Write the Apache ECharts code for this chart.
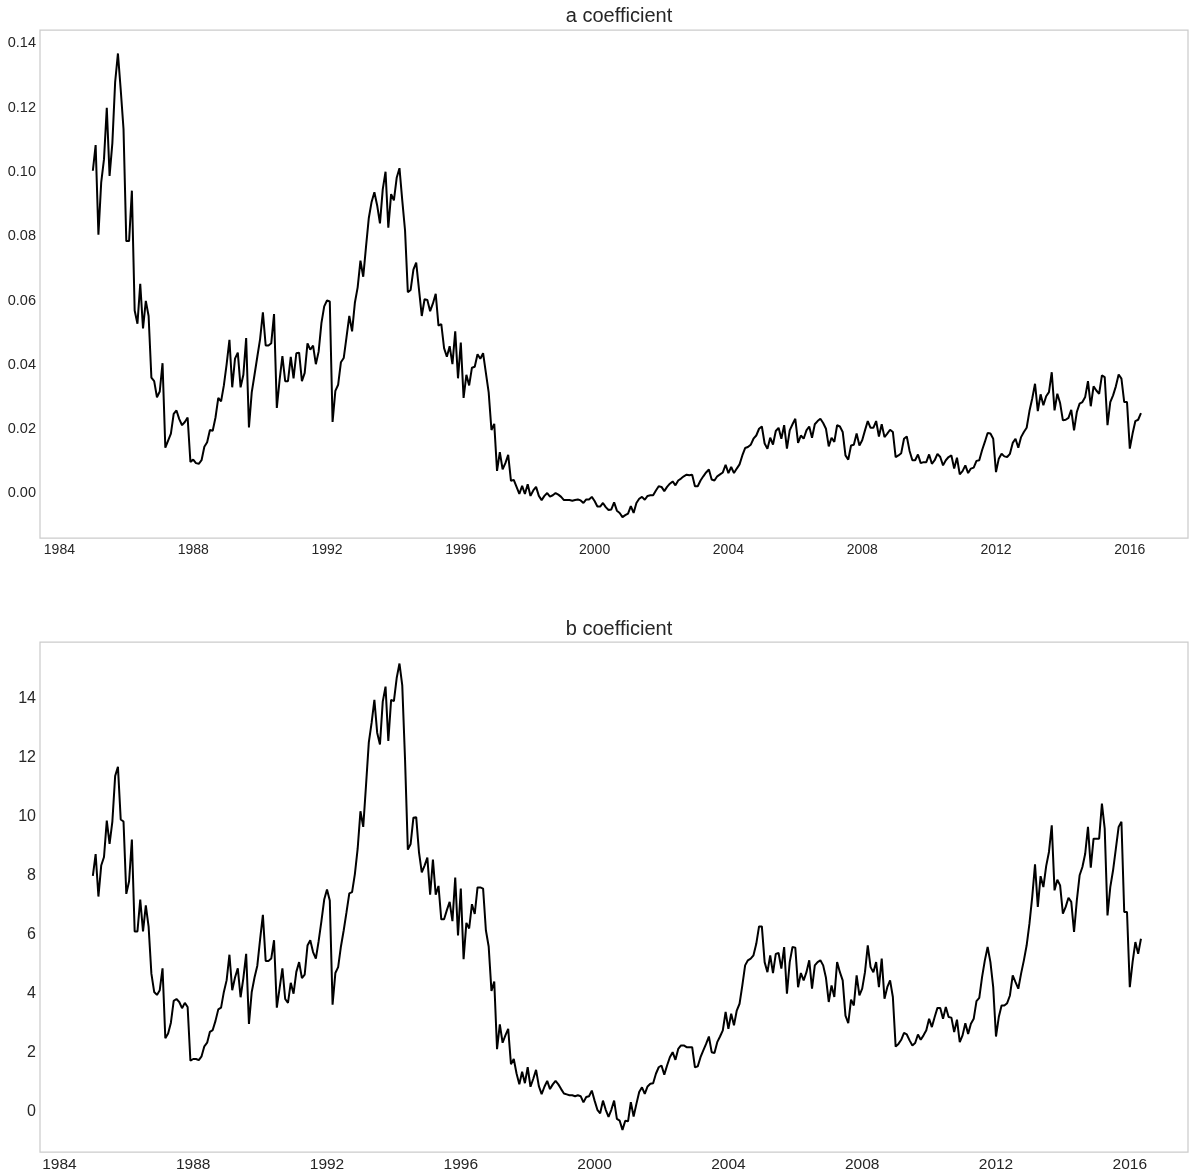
<!DOCTYPE html>
<html>
<head>
<meta charset="utf-8">
<script src="https://cdn.jsdelivr.net/npm/echarts@6/dist/echarts.min.js"></script>
<style>
  html, body { margin: 0; padding: 0; background: #ffffff; }
  #chart { width: 1189px; height: 1175px; }
</style>
</head>
<body>
<div id="chart"></div>
<script>
// Monthly estimates, first observation January 1985.
const START_YEAR = 1985;

const yearTicks = [1984, 1988, 1992, 1996, 2000, 2004, 2008, 2012, 2016];
const aTicks = [0, 0.02, 0.04, 0.06, 0.08, 0.10, 0.12, 0.14];
const bTicks = [0, 2, 4, 6, 8, 10, 12, 14];

// a coefficient, 1985-01 .. 1992-02
const aCoef1985 = [
  0.1004, 0.1084, 0.0805, 0.0968, 0.1040, 0.1200, 0.0988, 0.1090, 0.1280, 0.1369,
  0.1256, 0.1134, 0.0785, 0.0785, 0.0942, 0.0569, 0.0528, 0.0652, 0.0513, 0.0599,
  0.0552, 0.0360, 0.0349, 0.0299, 0.0317, 0.0405, 0.0142, 0.0164, 0.0186, 0.0247,
  0.0258, 0.0231, 0.0212, 0.0222, 0.0236, 0.0098, 0.0105, 0.0094, 0.0092, 0.0103,
  0.0145, 0.0159, 0.0197, 0.0195, 0.0236, 0.0297, 0.0286, 0.0336, 0.0402, 0.0478,
  0.0330, 0.0419, 0.0438, 0.0330, 0.0369, 0.0483, 0.0205, 0.0314, 0.0369, 0.0425,
  0.0480, 0.0563, 0.0460, 0.0460, 0.0467, 0.0558, 0.0266, 0.0353, 0.0427, 0.0349,
  0.0349, 0.0425, 0.0358, 0.0436, 0.0438, 0.0349, 0.0375, 0.0467, 0.0447, 0.0460,
  0.0402, 0.0441, 0.0530, 0.0582, 0.0600, 0.0597
];
// a coefficient, continuing through 2000
const aCoef1992 = [
  0.0222, 0.0319, 0.0338, 0.0408, 0.0421, 0.0486, 0.0552, 0.0504, 0.0593, 0.0641,
  0.0724, 0.0674, 0.0768, 0.0857, 0.0907, 0.0937, 0.0896, 0.0840, 0.0946, 0.1001,
  0.0827, 0.0931, 0.0912, 0.0982, 0.1012, 0.0912, 0.0818, 0.0626, 0.0633, 0.0696,
  0.0718, 0.0635, 0.0552, 0.0604, 0.0602, 0.0567, 0.0591, 0.0621, 0.0522, 0.0527,
  0.0452, 0.0425, 0.0458, 0.0402, 0.0504, 0.0358, 0.0469, 0.0297, 0.0369, 0.0336,
  0.0391, 0.0394, 0.0433, 0.0419, 0.0436, 0.0375, 0.0314, 0.0197, 0.0216, 0.0070,
  0.0128, 0.0075, 0.0094, 0.0120, 0.0039, 0.0042, 0.0020, -0.0002, 0.0023, -0.0002,
  0.0028, -0.0008, 0.0009, 0.0020, -0.0008, -0.0021, -0.0008, 0.0001, -0.0010, -0.0006,
  0.0001, -0.0004, -0.0011, -0.0021, -0.0021, -0.0021, -0.0023, -0.0021, -0.0019, -0.0022,
  -0.0030, -0.0019, -0.0019, -0.0011, -0.0024, -0.0041, -0.0041, -0.0030, -0.0043, -0.0052,
  -0.0050, -0.0028, -0.0054, -0.0061
];
// a coefficient, 2000 .. 2008
const aCoef2000 = [
  -0.0074, -0.0068, -0.0063, -0.0040, -0.0061, -0.0030, -0.0017, -0.0011, -0.0020, -0.0008,
  -0.0006, -0.0006, 0.0009, 0.0022, 0.0020, 0.0007, 0.0020, 0.0030, 0.0037, 0.0025,
  0.0040, 0.0046, 0.0053, 0.0058, 0.0056, 0.0058, 0.0022, 0.0022, 0.0040, 0.0053,
  0.0065, 0.0074, 0.0043, 0.0040, 0.0053, 0.0059, 0.0065, 0.0089, 0.0063, 0.0082,
  0.0063, 0.0077, 0.0090, 0.0118, 0.0141, 0.0144, 0.0151, 0.0170, 0.0180, 0.0201,
  0.0208, 0.0155, 0.0139, 0.0173, 0.0152, 0.0194, 0.0204, 0.0170, 0.0212, 0.0139,
  0.0196, 0.0215, 0.0232, 0.0157, 0.0180, 0.0170, 0.0196, 0.0208, 0.0173, 0.0215,
  0.0225, 0.0232, 0.0219, 0.0201, 0.0146, 0.0173, 0.0160, 0.0212, 0.0208, 0.0191,
  0.0118, 0.0105, 0.0149, 0.0151, 0.0186, 0.0149, 0.0165, 0.0196, 0.0225, 0.0204,
  0.0204, 0.0225, 0.0177, 0.0215
];
// a coefficient, 2008 .. 2016
const aCoef2008 = [
  0.0175, 0.0186, 0.0198, 0.0191, 0.0113, 0.0118, 0.0125, 0.0170, 0.0177, 0.0132,
  0.0103, 0.0103, 0.0121, 0.0094, 0.0097, 0.0097, 0.0121, 0.0092, 0.0103, 0.0123,
  0.0113, 0.0087, 0.0103, 0.0113, 0.0118, 0.0077, 0.0111, 0.0059, 0.0069, 0.0087,
  0.0063, 0.0077, 0.0080, 0.0101, 0.0103, 0.0134, 0.0160, 0.0188, 0.0186, 0.0170,
  0.0066, 0.0108, 0.0123, 0.0115, 0.0113, 0.0123, 0.0157, 0.0170, 0.0142, 0.0175,
  0.0191, 0.0204, 0.0256, 0.0295, 0.0341, 0.0256, 0.0308, 0.0274, 0.0302, 0.0315,
  0.0377, 0.0258, 0.0310, 0.0281, 0.0227, 0.0229, 0.0235, 0.0260, 0.0196, 0.0253,
  0.0279, 0.0284, 0.0300, 0.0349, 0.0271, 0.0333, 0.0320, 0.0310, 0.0367, 0.0362,
  0.0212, 0.0284, 0.0305, 0.0333, 0.0370, 0.0357, 0.0284, 0.0284, 0.0139, 0.0186,
  0.0225, 0.0229, 0.0250
];

// b coefficient, same months
const bCoef1985 = [
  7.98, 8.72, 7.28, 8.33, 8.62, 9.85, 9.06, 9.82, 11.36, 11.67,
  9.89, 9.82, 7.37, 7.80, 9.21, 6.10, 6.10, 7.18, 6.10, 6.98,
  6.26, 4.67, 4.05, 3.95, 4.11, 4.85, 2.48, 2.64, 3.01, 3.75,
  3.81, 3.71, 3.50, 3.68, 3.54, 1.72, 1.78, 1.78, 1.74, 1.87,
  2.21, 2.33, 2.70, 2.76, 3.07, 3.46, 3.52, 4.05, 4.45, 5.31,
  4.11, 4.54, 4.85, 3.87, 4.52, 5.34, 2.97, 4.05, 4.54, 4.94,
  5.83, 6.66, 5.10, 5.10, 5.18, 5.80, 3.52, 4.18, 4.85, 3.81,
  3.68, 4.36, 3.99, 4.73, 5.06, 4.52, 4.64, 5.62, 5.80, 5.40,
  5.18, 5.77, 6.45, 7.18, 7.52, 7.15
];
const bCoef1992 = [
  3.62, 4.69, 4.89, 5.59, 6.14, 6.75, 7.39, 7.43, 8.04, 8.90,
  10.17, 9.64, 11.05, 12.50, 13.16, 13.94, 12.83, 12.43, 13.88, 14.39,
  12.55, 13.94, 13.90, 14.68, 15.17, 14.43, 11.91, 8.87, 9.06, 9.95,
  9.97, 8.78, 8.10, 8.33, 8.60, 7.34, 8.53, 7.34, 7.64, 6.51,
  6.51, 6.82, 7.10, 6.45, 7.92, 5.96, 7.55, 5.16, 6.39, 6.20,
  7.02, 6.69, 7.59, 7.59, 7.55, 6.14, 5.59, 4.08, 4.40, 2.11,
  2.95, 2.33, 2.58, 2.80, 1.60, 1.78, 1.29, 0.92, 1.35, 0.96,
  1.50, 0.84, 1.11, 1.41, 0.86, 0.59, 0.84, 1.04, 0.76, 0.92,
  1.04, 0.92, 0.76, 0.61, 0.58, 0.55, 0.55, 0.52, 0.55, 0.52,
  0.31, 0.49, 0.52, 0.71, 0.37, 0.06, -0.06, 0.37, 0.06, -0.18,
  0.06, 0.37, -0.25, -0.31
];
const bCoef2000 = [
  -0.62, -0.31, -0.33, 0.32, -0.17, 0.26, 0.66, 0.82, 0.60, 0.85,
  0.94, 0.96, 1.28, 1.50, 1.56, 1.25, 1.56, 1.84, 2.01, 1.75,
  2.12, 2.24, 2.24, 2.18, 2.18, 2.18, 1.50, 1.53, 1.84, 2.07,
  2.29, 2.54, 2.01, 1.98, 2.35, 2.54, 2.75, 3.37, 2.80, 3.31,
  2.92, 3.42, 3.65, 4.27, 4.95, 5.12, 5.18, 5.29, 5.68, 6.27,
  6.27, 5.06, 4.72, 5.29, 4.69, 5.34, 5.37, 4.84, 5.57, 3.99,
  5.06, 5.57, 5.55, 4.21, 4.69, 4.44, 4.72, 5.12, 4.16, 4.95,
  5.06, 5.12, 4.95, 4.53, 3.71, 4.27, 3.88, 5.06, 4.72, 4.44,
  3.25, 2.99, 3.79, 3.59, 4.61, 3.93, 4.16, 4.72, 5.63, 4.89,
  4.72, 5.06, 4.21, 5.18
];
const bCoef2008 = [
  3.82, 4.21, 4.44, 3.88, 2.20, 2.29, 2.43, 2.66, 2.61, 2.41,
  2.24, 2.32, 2.61, 2.43, 2.58, 2.75, 3.14, 2.86, 3.20, 3.51,
  3.51, 3.14, 3.54, 3.20, 3.18, 2.69, 3.11, 2.35, 2.58, 2.99,
  2.63, 2.97, 3.14, 3.74, 3.85, 4.55, 5.12, 5.57, 5.06, 4.21,
  2.54, 3.20, 3.59, 3.59, 3.67, 3.93, 4.61, 4.38, 4.16, 4.67,
  5.12, 5.63, 6.36, 7.27, 8.37, 6.93, 7.97, 7.60, 8.31, 8.79,
  9.69, 7.49, 7.85, 7.66, 6.70, 6.93, 7.24, 7.10, 6.08, 7.15,
  8.00, 8.28, 8.73, 9.64, 8.26, 9.24, 9.24, 9.24, 10.43, 9.58,
  6.64, 7.60, 8.17, 8.90, 9.64, 9.81, 6.76, 6.76, 4.21, 5.06,
  5.74, 5.34, 5.85
];

const aCoef = [].concat(aCoef1985, aCoef1992, aCoef2000, aCoef2008);
const bCoef = [].concat(bCoef1985, bCoef1992, bCoef2000, bCoef2008);

// monthly series -> [decimal year, value]
const monthly = vals => vals.map((v, i) => [START_YEAR + i / 12, v]);

const TEXT = '#262626';
const FONT = '"Liberation Sans", Arial, sans-serif';

function xAxisFor(gridIndex, fontSize) {
  return {
    type: 'value', gridIndex,
    min: 1983.42, max: 2017.74,
    axisLine: { show: false }, axisTick: { show: false }, splitLine: { show: false },
    axisLabel: {
      customValues: yearTicks, color: TEXT, fontFamily: FONT, fontSize, margin: 5,
      formatter: v => String(Math.round(v))
    }
  };
}

const chart = echarts.init(document.getElementById('chart'), null, { renderer: 'canvas' });
chart.setOption({
  animation: false,
  backgroundColor: '#ffffff',
  title: [
    { text: 'a coefficient', left: 614, top: 1, textAlign: 'center',
      textStyle: { color: TEXT, fontFamily: FONT, fontSize: 20, fontWeight: 'normal' } },
    { text: 'b coefficient', left: 614, top: 614, textAlign: 'center',
      textStyle: { color: TEXT, fontFamily: FONT, fontSize: 20, fontWeight: 'normal' } }
  ],
  grid: [
    { left: 40, right: 1, top: 30, height: 508, show: true, borderColor: '#cccccc', borderWidth: 1.25 },
    { left: 40, right: 1, top: 642, height: 510, show: true, borderColor: '#cccccc', borderWidth: 1.25 }
  ],
  xAxis: [xAxisFor(0, 14), xAxisFor(1, 15.5)],
  yAxis: [
    {
      type: 'value', gridIndex: 0, min: -0.0139, max: 0.1442,
      axisLine: { show: false }, axisTick: { show: false }, splitLine: { show: false },
      axisLabel: { customValues: aTicks, color: TEXT, fontFamily: FONT, fontSize: 14.5, margin: 4,
        formatter: v => v.toFixed(2) }
    },
    {
      type: 'value', gridIndex: 1, min: -1.37, max: 15.9,
      axisLine: { show: false }, axisTick: { show: false }, splitLine: { show: false },
      axisLabel: { customValues: bTicks, color: TEXT, fontFamily: FONT, fontSize: 16, margin: 4,
        formatter: v => String(Math.round(v)) }
    }
  ],
  series: [
    { type: 'line', xAxisIndex: 0, yAxisIndex: 0, data: monthly(aCoef),
      showSymbol: false, lineStyle: { color: '#000000', width: 2 } },
    { type: 'line', xAxisIndex: 1, yAxisIndex: 1, data: monthly(bCoef),
      showSymbol: false, lineStyle: { color: '#000000', width: 2 } }
  ]
});
</script>
</body>
</html>
